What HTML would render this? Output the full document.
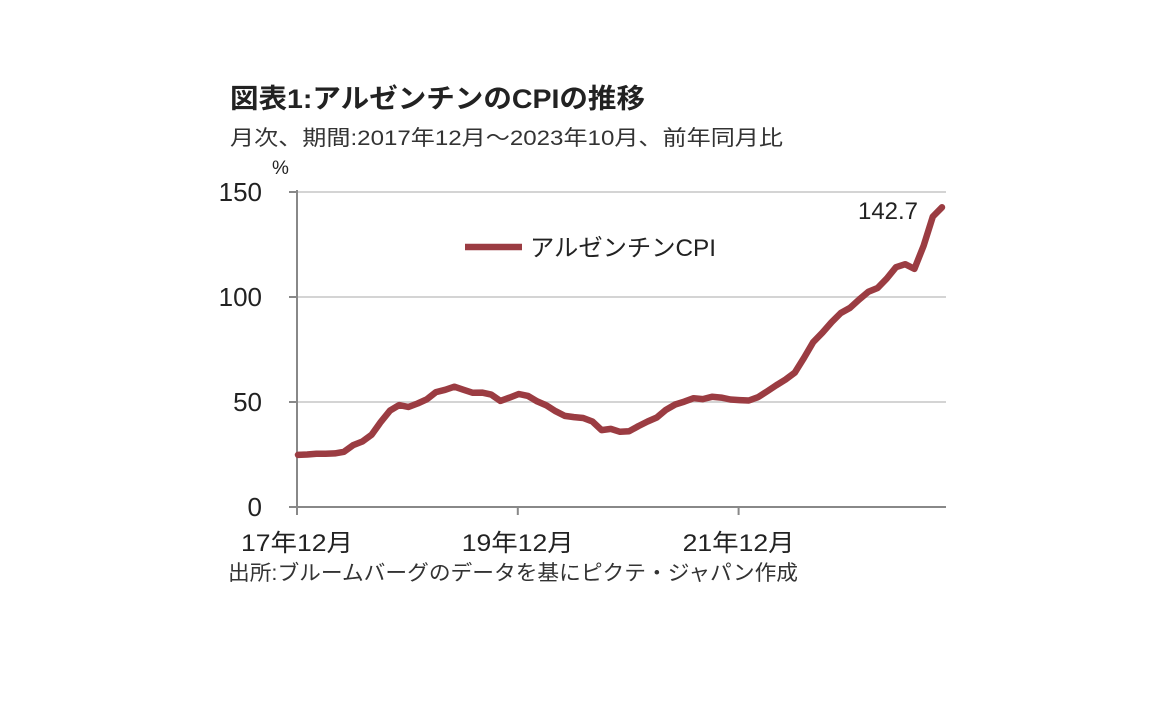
<!DOCTYPE html>
<html><head><meta charset="utf-8"><style>
body{margin:0;width:1152px;height:720px;background:#fff;overflow:hidden;font-family:"Liberation Sans","Noto Sans CJK JP",sans-serif}
</style></head><body>
<svg width="1152" height="720" style="font-family:'Liberation Sans','Noto Sans CJK JP',sans-serif">
<text x="230" y="108" font-size="27" font-weight="bold" fill="#222" textLength="415" lengthAdjust="spacingAndGlyphs">図表1:アルゼンチンのCPIの推移</text>
<text x="230" y="145" font-size="21" fill="#333" textLength="553" lengthAdjust="spacingAndGlyphs">月次、期間:2017年12月～2023年10月、前年同月比</text>
<text x="272" y="174" font-size="19" fill="#222">%</text>
<g id="grid"></g>
<g id="yt"></g>
<g id="xt"></g>
<line x1="297" y1="190" x2="297" y2="507" stroke="#888" stroke-width="2"/>
<line x1="297" y1="507" x2="946" y2="507" stroke="#888" stroke-width="2"/>
<path id="line" fill="none" stroke="#9b3c42" stroke-width="6.5" stroke-linejoin="round" stroke-linecap="round"/>
<line x1="465" y1="247" x2="522" y2="247" stroke="#9b3c42" stroke-width="6.5"/>
<text x="530" y="256" font-size="24" fill="#222" textLength="186" lengthAdjust="spacingAndGlyphs">アルゼンチンCPI</text>
<text id="lastlbl" x="888" y="219" font-size="24" fill="#222" text-anchor="middle">142.7</text>
<text x="228" y="580" font-size="21" fill="#333" textLength="570" lengthAdjust="spacingAndGlyphs">出所:ブルームバーグのデータを基にピクテ・ジャパン作成</text>
</svg>
<script>
const values=[24.8,25,25.4,25.4,25.5,26.3,29.5,31.2,34.4,40.5,45.9,48.5,47.6,49.3,51.3,54.7,55.8,57.3,55.8,54.4,54.5,53.5,50.5,52.1,53.8,52.9,50.3,48.4,45.6,43.4,42.8,42.4,40.7,36.6,37.2,35.8,36.1,38.5,40.7,42.6,46.3,48.8,50.2,51.8,51.4,52.5,52.1,51.2,50.9,50.7,52.3,55.1,58.0,60.7,64.0,71.0,78.5,83.0,88.0,92.4,94.8,98.8,102.5,104.3,108.8,114.2,115.6,113.4,124.4,138.3,142.7];
const yTicks=[0,50,100,150];
const xTickIdx=[0,24,48];
const xTickLabels=["17年12月","19年12月","21年12月"];
const ns="http://www.w3.org/2000/svg";
const X=i=>298+i*9.2, Y=v=>507-v*2.1;
const g=document.getElementById('grid'),yt=document.getElementById('yt'),xt=document.getElementById('xt');
yTicks.forEach(t=>{
 if(t>0){const l=document.createElementNS(ns,'line');l.setAttribute('x1',297);l.setAttribute('x2',946);l.setAttribute('y1',Y(t));l.setAttribute('y2',Y(t));l.setAttribute('stroke','#d4d4d4');l.setAttribute('stroke-width',2);
 
 g.appendChild(l);}
 const tk=document.createElementNS(ns,'line');tk.setAttribute('x1',289);tk.setAttribute('x2',297);tk.setAttribute('y1',Y(t));tk.setAttribute('y2',Y(t));tk.setAttribute('stroke','#888');tk.setAttribute('stroke-width',2);yt.appendChild(tk);
 const tx=document.createElementNS(ns,'text');tx.setAttribute('x',262);tx.setAttribute('y',Y(t)+9);tx.setAttribute('text-anchor','end');tx.setAttribute('font-size',26);tx.setAttribute('fill','#222');tx.textContent=t;
 
 yt.appendChild(tx);
});
xTickIdx.forEach((i,k)=>{
 const tk=document.createElementNS(ns,'line');tk.setAttribute('x1',X(i)-1);tk.setAttribute('x2',X(i)-1);tk.setAttribute('y1',507);tk.setAttribute('y2',515);tk.setAttribute('stroke','#888');tk.setAttribute('stroke-width',2);xt.appendChild(tk);
 const tx=document.createElementNS(ns,'text');tx.setAttribute('x',X(i)-1);tx.setAttribute('y',551);tx.setAttribute('text-anchor','middle');tx.setAttribute('font-size',24);tx.setAttribute('fill','#222');tx.setAttribute('textLength',112);tx.setAttribute('lengthAdjust','spacingAndGlyphs');tx.textContent=xTickLabels[k];
 
 xt.appendChild(tx);
});
document.getElementById('line').setAttribute('d',values.map((v,i)=>(i?'L':'M')+X(i).toFixed(1)+','+Y(v).toFixed(1)).join(''));
document.getElementById('lastlbl').textContent=values[values.length-1].toFixed(1);
</script>
</body></html>
